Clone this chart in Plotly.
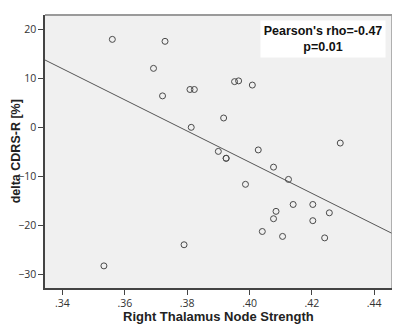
import numpy as np
import plotly.graph_objects as go

# Data
node_strength = [0.3533, 0.3560, 0.3692, 0.3721, 0.3729, 0.3790, 0.3809, 0.3813, 0.3823,
                 0.3900, 0.3917, 0.3925, 0.3925, 0.3952, 0.3965, 0.3987, 0.4009, 0.4028,
                 0.4041, 0.4077, 0.4077, 0.4085, 0.4106, 0.4125, 0.4140, 0.4203, 0.4203,
                 0.4241, 0.4256, 0.4291]
delta_cdrs = [-28.2, 17.9, 12.0, 6.4, 17.5, -23.9, 7.7, 0.0, 7.7,
              -4.9, 1.9, -6.3, -6.3, 9.3, 9.45, -11.6, 8.6, -4.6,
              -21.2, -8.1, -18.6, -17.1, -22.2, -10.6, -15.7, -15.7, -19.0,
              -22.5, -17.4, -3.2]

x_tickvals = [0.34, 0.36, 0.38, 0.40, 0.42, 0.44]
x_ticktext = [".34", ".36", ".38", ".40", ".42", ".44"]
y_tickvals = [-30, -20, -10, 0, 10, 20]

x_range = [0.3344, 0.4457]
y_range = [-32.7, 22.86]

# Linear fit through the data
slope, intercept = np.polyfit(node_strength, delta_cdrs, 1)
fit_x = np.array(x_range)
fit_y = slope * fit_x + intercept

fig = go.Figure()
fig.add_trace(go.Scatter(
    x=fit_x, y=fit_y, mode="lines",
    line=dict(color="#555555", width=1), hoverinfo="skip", showlegend=False))
fig.add_trace(go.Scatter(
    x=node_strength, y=delta_cdrs, mode="markers",
    marker=dict(symbol="circle-open", size=6, color="#4a4a4a", line=dict(width=1)),
    showlegend=False))

fig.add_annotation(
    xref="paper", yref="paper", x=0.8, y=0.912, xanchor="center", yanchor="middle",
    text="<b>Pearson's rho=-0.47<br>p=0.01</b>", showarrow=False,
    font=dict(family="Liberation Sans, Arial", size=12.5, color="#111111"),
    bgcolor="white", width=118, height=30, borderpad=3, align="center")

# Axis titles
title_font = dict(family="Liberation Sans, Arial", size=13, color="#222222")
fig.add_annotation(
    xref="paper", yref="paper", x=0.5, y=-0.106, xanchor="center", yanchor="middle",
    text="<b>Right Thalamus Node Strength</b>", showarrow=False, font=title_font)
fig.add_annotation(
    xref="paper", yref="paper", x=-0.084, y=0.5, xanchor="center", yanchor="middle",
    text="<b>delta CDRS-R [%]</b>", showarrow=False, textangle=-90, borderpad=0,
    font=dict(family="Liberation Sans, Arial", size=12.5, color="#222222"))

# Top/right border in light grey
fig.add_shape(type="line", xref="paper", yref="paper", x0=0, x1=1, y0=1, y1=1,
              line=dict(color="#9a9a9a", width=2))
fig.add_shape(type="line", xref="paper", yref="paper", x0=1, x1=1, y0=0, y1=1,
              line=dict(color="#9a9a9a", width=1.5))

tick_font = dict(family="Open Sans, Liberation Sans", size=10.5, color="#333333")
fig.update_xaxes(
    range=x_range, tickvals=x_tickvals, ticktext=x_ticktext, automargin=False,
    showgrid=False, zeroline=False, showline=True, linecolor="#444444", linewidth=1.5,
    ticks="outside", ticklen=5, tickcolor="#444444", tickfont=tick_font)
fig.update_yaxes(
    range=y_range, tickvals=y_tickvals, automargin=False,
    showgrid=False, zeroline=False, showline=True, linecolor="#444444", linewidth=1.5,
    ticks="outside", ticklen=5, tickcolor="#444444", tickfont=tick_font)

# The page body adds an 8px offset, so the figure is sized to compensate
fig.update_layout(
    width=392, height=319,
    margin=dict(l=37, r=8, t=7, b=39, autoexpand=False),
    plot_bgcolor="#f0f0f0", paper_bgcolor="white",
)

fig.write_html("out.html")
